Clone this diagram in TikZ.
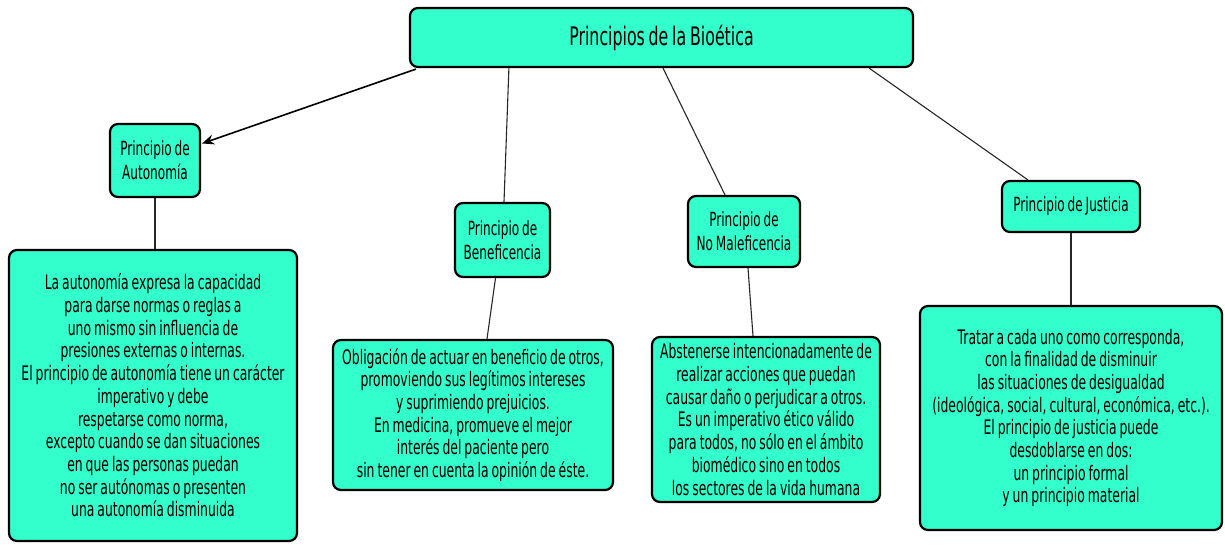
\documentclass[tikz,border=0pt]{standalone}
\usepackage{fontspec}
\setmainfont{DejaVu Sans}[FakeStretch=0.62, WordSpace=0.75]
\usetikzlibrary{arrows.meta, calc, positioning}
\definecolor{aguaMarina}{RGB}{51,255,204}
\tikzset{
  conceptBox/.style={draw=black, line width=2.2pt, rounded corners=8pt, fill=aguaMarina,
    align=center, inner sep=0pt, font=\fontsize{19.5}{24}\selectfont},
  % cajas de texto largas (ancho y alto fijos)
  textBox/.style n args={2}{conceptBox, minimum width=#1, minimum height=#2,
    font=\fontsize{20}{22.7}\selectfont},
  linkLine/.style={draw=black!85, line width=1.1pt},
  mainArrow/.style={-{Stealth[length=12pt, width=10pt]}, black, line width=1.6pt}
}

\begin{document}
\begin{tikzpicture}[x=1pt, y=-1pt]
  \useasboundingbox (0,0) rectangle (1225,544);

  %% --- NODO CENTRAL ---
  \node[conceptBox, minimum width=503, minimum height=59, font=\fontsize{25.5}{30}\selectfont]
    (root) at (661.5,37.5) {Principios de la Bioética};

  %% --- PRINCIPIOS ---
  \node[conceptBox, minimum width=90, minimum height=73] (autonomia) at (155,160.5)
    {Principio de\\Autonomía};
  \node[conceptBox, minimum width=95, minimum height=74] (beneficencia) at (502.5,240)
    {Principio de\\Beneficencia};
  \node[conceptBox, minimum width=112, minimum height=71] (nomaleficencia) at (744,231.5)
    {Principio de\\No Maleficencia};
  \node[conceptBox, minimum width=138, minimum height=51] (justicia) at (1071,206.5)
    {Principio de Justicia};

  %% --- DESCRIPCIONES ---
  \node[textBox={288}{291}] (autonomiaTxt) at (153,395.5)
    {La autonomía expresa la capacidad\\
     para darse normas o reglas a\\
     uno mismo sin influencia de\\
     presiones externas o internas.\\
     El principio de autonomía tiene un carácter\\
     imperativo y debe\\
     respetarse como norma,\\
     excepto cuando se dan situaciones\\
     en que las personas puedan\\
     no ser autónomas o presenten\\
     una autonomía disminuida};
  \node[textBox={280}{150}] (beneficenciaTxt) at (473,415)
    {Obligación de actuar en beneficio de otros,\\
     promoviendo sus legítimos intereses\\
     y suprimiendo prejuicios.\\
     En medicina, promueve el mejor\\
     interés del paciente pero\\
     sin tener en cuenta la opinión de éste.};
  \node[textBox={228}{165}] (nomaleficenciaTxt) at (766,419.5)
    {Abstenerse intencionadamente de\\
     realizar acciones que puedan\\
     causar daño o perjudicar a otros.\\
     Es un imperativo ético válido\\
     para todos, no sólo en el ámbito\\
     biomédico sino en todos\\
     los sectores de la vida humana};
  \node[textBox={302}{224}] (justiciaTxt) at (1071,418)
    {Tratar a cada uno como corresponda,\\
     con la finalidad de disminuir\\
     las situaciones de desigualdad\\
     (ideológica, social, cultural, económica, etc.).\\
     El principio de justicia puede\\
     desdoblarse en dos:\\
     un principio formal\\
     y un principio material};

  %% --- CONECTORES ---
  \draw[mainArrow] ($(root.south west)+(7,1)$) -- ($(autonomia.east)+(1,-17)$);
  \draw[linkLine] ($(root.south west)+(100,0)$) -- ($(beneficencia.north)+(1.5,0)$);
  \draw[linkLine] ($(root.south)+(1.5,0)$) -- ($(nomaleficencia.north)+(-19,0)$);
  \draw[linkLine] ($(root.south east)+(-45,0)$) -- ($(justicia.north west)+(27,0)$);

  \draw[linkLine] (autonomia.south) -- (autonomia.south |- autonomiaTxt.north);
  \draw[linkLine] ($(beneficencia.south)+(-7,0)$) -- ($(beneficenciaTxt.north)+(14,0)$);
  \draw[linkLine] ($(nomaleficencia.south)+(4,0)$) -- ($(nomaleficenciaTxt.north)+(-13,0)$);
  \draw[linkLine] (justicia.south) -- (justiciaTxt.north);
\end{tikzpicture}
\end{document}
